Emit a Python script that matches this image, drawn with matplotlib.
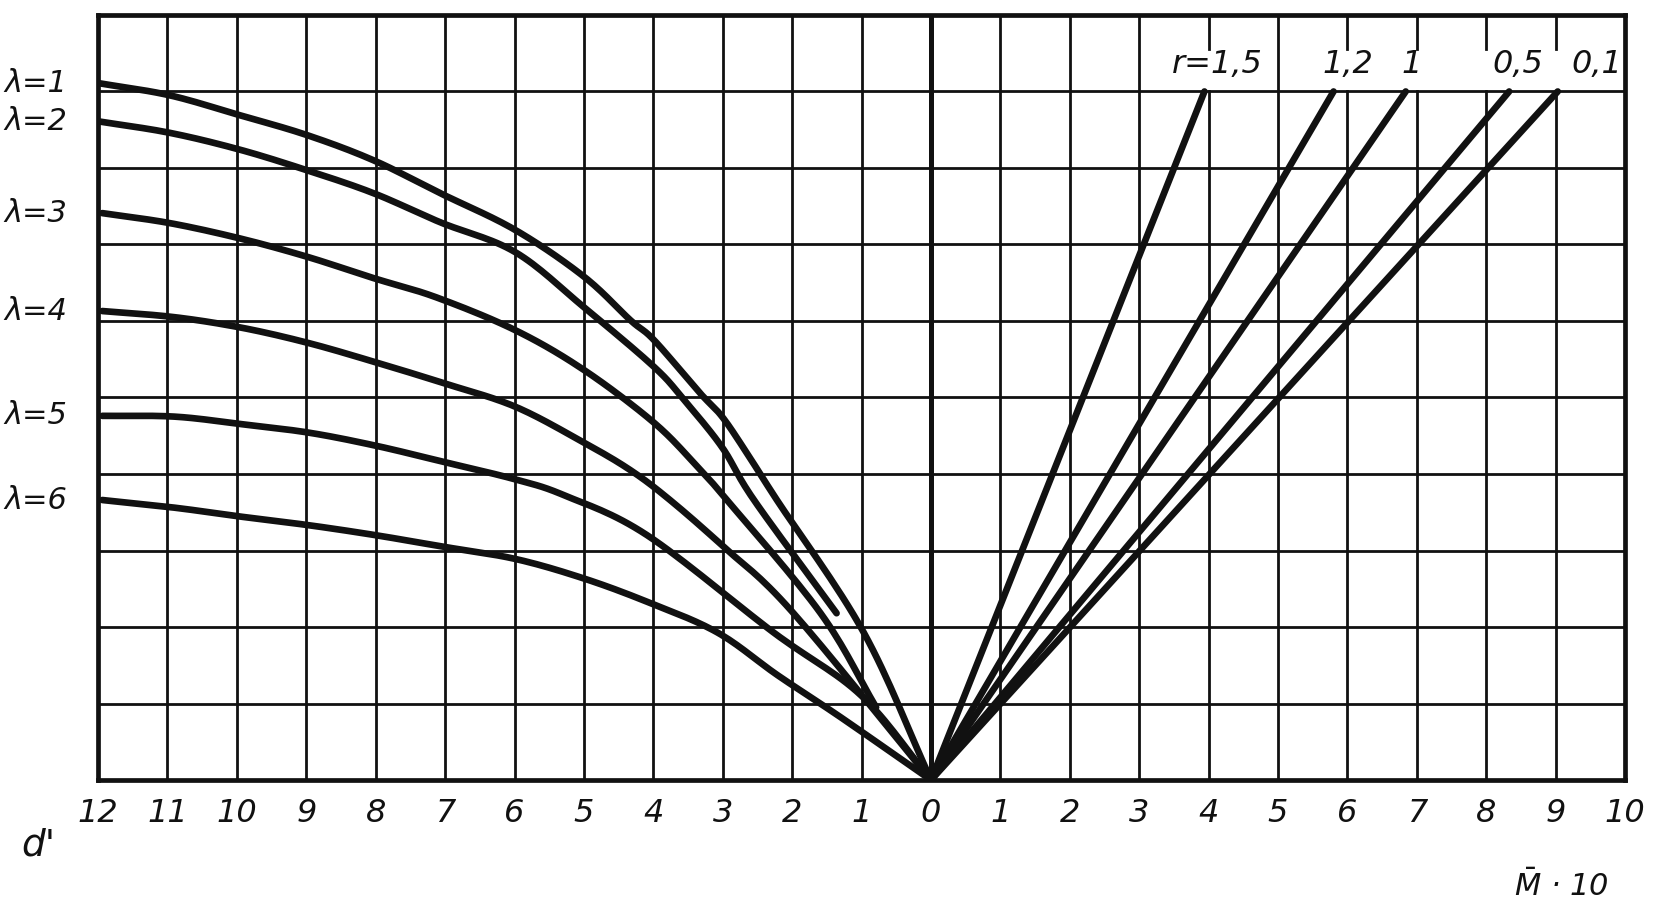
import matplotlib.pyplot as plt
import numpy as np

# left half: d' (plotted to the left of 0), curves for lambda = 1..6
lam_names = ['1', '2', '3', '4', '5', '6']
lam_d = [
    [12.0, 10.97, 9.96, 8.99, 8.03, 7.07, 5.99, 5.00, 4.33, 3.99, 3.33, 3.01, 2.65, 2.22, 0.97, 0.0],
    [12.0, 10.97, 9.96, 8.99, 8.03, 7.07, 5.99, 5.00, 3.99, 3.56, 3.01, 2.55, 1.36],
    [11.94, 10.97, 9.96, 8.99, 8.03, 7.13, 5.99, 5.00, 3.99, 3.37, 2.94, 1.59, 0.79],
    [11.94, 10.90, 9.92, 8.96, 8.00, 7.03, 5.99, 5.00, 4.33, 3.76, 2.99, 2.0, 0.0],
    [11.94, 10.90, 9.92, 8.96, 8.00, 7.03, 5.99, 5.28, 4.09, 2.27, 1.00, 0.0],
    [11.94, 10.90, 9.92, 8.96, 8.00, 7.03, 5.99, 5.02, 4.09, 3.08, 2.21, 1.30, 0.0],
]
lam_v = [
    [9.11, 8.95, 8.69, 8.43, 8.10, 7.67, 7.19, 6.58, 6.01, 5.75, 5.06, 4.75, 4.27, 3.66, 1.93, 0.0],
    [8.61, 8.46, 8.24, 7.97, 7.67, 7.29, 6.90, 6.18, 5.40, 4.97, 4.35, 3.66, 2.18],
    [7.41, 7.28, 7.08, 6.84, 6.56, 6.31, 5.88, 5.36, 4.67, 4.10, 3.66, 2.18, 0.95],
    [6.13, 6.05, 5.91, 5.71, 5.46, 5.19, 4.88, 4.41, 4.05, 3.66, 3.05, 2.2, 0.0],
    [4.76, 4.75, 4.65, 4.54, 4.37, 4.16, 3.93, 3.72, 3.20, 1.93, 1.10, 0.0],
    [3.66, 3.56, 3.44, 3.33, 3.20, 3.05, 2.89, 2.64, 2.33, 1.93, 1.37, 0.82, 0.0],
]

# right half: M*10, straight rays for r
r_names = ['r=1,5', '1,2', '1', '0,5', '0,1']
r_top_m = [3.94, 5.80, 6.84, 8.33, 9.03]
r_top_v = 9.0
r_label_x = [4.12, 6.0, 6.92, 8.46, 9.6]

left_ticks = list(range(12, 0, -1))
right_ticks = list(range(0, 11))


def smooth(x, y, n=16):
    # catmull-rom through the read points
    pts = np.column_stack([x, y]).astype(float)
    p = np.vstack([2 * pts[0] - pts[1], pts, 2 * pts[-1] - pts[-2]])
    out = []
    t = np.linspace(0, 1, n, endpoint=False)[:, None]
    for i in range(1, len(p) - 2):
        p0, p1, p2, p3 = p[i - 1], p[i], p[i + 1], p[i + 2]
        seg = 0.5 * (2 * p1 + (-p0 + p2) * t + (2 * p0 - 5 * p1 + 4 * p2 - p3) * t ** 2
                     + (-p0 + 3 * p1 - 3 * p2 + p3) * t ** 3)
        out.append(seg)
    out.append(pts[-1:])
    out = np.vstack(out)
    return out[:, 0], out[:, 1]


fig = plt.figure(figsize=(16.54, 9.07), dpi=100)
ax = fig.add_axes([0.0593, 0.140, 0.9232, 0.8435])
ax.set_xlim(-12, 10)
ax.set_ylim(0, 10)

ink = '#111111'
glw = 2.0
# vertical grid
for x in range(-11, 10):
    if x in (4, 6, 7, 8, 9):
        ax.plot([x, x], [0, 9], color=ink, lw=glw, zorder=1)
        ax.plot([x, x], [9.55, 10], color=ink, lw=glw, zorder=1)
    else:
        ax.plot([x, x], [0, 10], color=ink, lw=glw * (1.8 if x == 0 else 1), zorder=1)
# horizontal grid
for y in range(1, 10):
    ax.plot([-12, 10], [y, y], color=ink, lw=glw, zorder=1)

for s in ax.spines.values():
    s.set_linewidth(3.4)
    s.set_color(ink)

for name, d, v in zip(lam_names, lam_d, lam_v):
    sx, sy = smooth(-np.array(d), v)
    ax.plot(sx, sy, color=ink, lw=4.8, solid_capstyle='round',
            solid_joinstyle='round', zorder=3)
    ax.text(-12.9, v[0], '\u03bb=' + name, ha='center', va='center',
            fontsize=22, style='italic', color=ink, clip_on=False)

for name, m, lx in zip(r_names, r_top_m, r_label_x):
    ax.plot([0, m], [0, r_top_v], color=ink, lw=4.8, solid_capstyle='round', zorder=3)
    ax.text(lx, 9.35, name, ha='center', va='center', fontsize=23,
            style='italic', color=ink)

ticks = [-t for t in left_ticks] + right_ticks
ax.set_xticks(ticks)
ax.set_xticklabels([str(t) for t in left_ticks] + [str(t) for t in right_ticks],
                   fontsize=23, style='italic', color=ink)
ax.set_yticks([])
ax.tick_params(axis='x', length=0, pad=13)

fig.text(0.013, 0.068, "d'", fontsize=27, style='italic', color=ink, ha='left', va='center')
fig.text(0.944, 0.023, r'$\bar{M}$ · 10', fontsize=22, style='italic', color=ink,
         ha='center', va='center')

fig.savefig('out.png', dpi=100)
